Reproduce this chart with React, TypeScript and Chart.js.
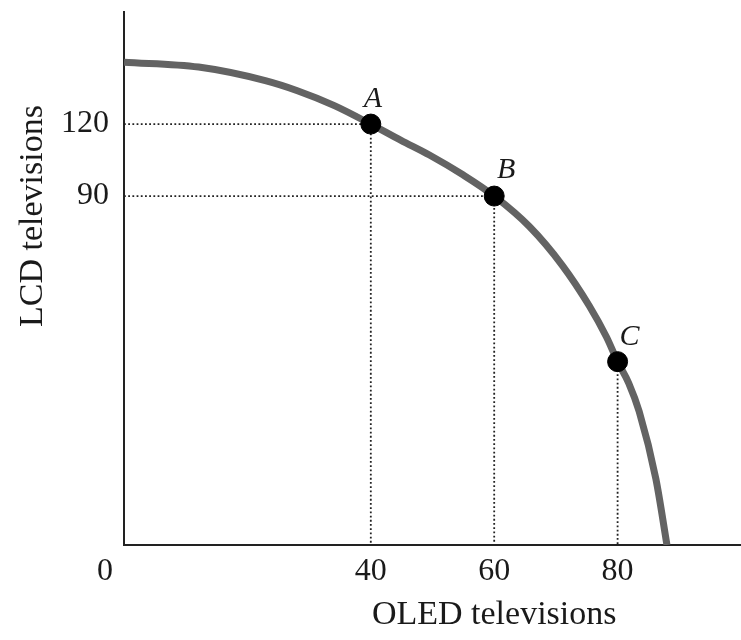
import React, { useEffect, useRef } from "react";
import { Chart, registerables } from "chart.js";

Chart.register(...registerables);

// Production possibilities frontier
const curveX = [0, 12.1, 22.9, 28.1, 34.1, 40, 44.9, 49.5, 55.0, 60, 65.7, 71.0, 75.4, 78.2, 80, 81.8, 83.5, 86.2, 88.0];
const curveY = [145.8, 143.75, 138.1, 133.9, 127.7, 120, 113.2, 107.1, 98.75, 90, 77.3, 61.25, 44.3, 31.25, 21, 12.1, 0.2, -27.8, -55.4];

const pointLabels = ["A", "B", "C"];
const pointX = [40, 60, 80];
const pointY = [120, 90, 21];
const horizontalGuide = [true, true, false];

const xTicks = [40, 60, 80];
const yTicks = [90, 120];
const originLabel = "0";
const xTitle = "OLED televisions";
const yTitle = "LCD televisions";

const X_MIN = 0;
const X_MAX = 100;
const Y_MIN = -55.4;
const Y_MAX = 166.7;

const SERIF = '"Liberation Serif", "DejaVu Serif", serif';
const TEXT = "#1a1a1a";

export default function App() {
  const canvasRef = useRef<HTMLCanvasElement | null>(null);

  useEffect(() => {
    const canvas = canvasRef.current;
    if (!canvas) return;

    const curveData = curveX.map((x, i) => ({ x, y: curveY[i] }));
    const pointData = pointX.map((x, i) => ({ x, y: pointY[i] }));

    const guideSets = pointX.map((x, i) => {
      const y = pointY[i];
      const data = horizontalGuide[i]
        ? [{ x: X_MIN, y }, { x, y }, { x, y: Y_MIN }]
        : [{ x, y }, { x, y: Y_MIN }];
      return {
        type: "line" as const,
        data,
        borderColor: "#222",
        borderWidth: 1.8,
        borderDash: [1.8, 2.4],
        pointRadius: 0,
        fill: false,
        tension: 0,
        order: 3,
      };
    });

    const textPlugin = {
      id: "textPlugin",
      afterDraw(chart: any) {
        const ctx = chart.ctx as CanvasRenderingContext2D;
        const xs = chart.scales.x;
        const ys = chart.scales.y;
        ctx.save();
        ctx.fillStyle = TEXT;
        ctx.textAlign = "center";
        ctx.textBaseline = "middle";

        // origin label
        ctx.font = `32px ${SERIF}`;
        ctx.fillText(originLabel, xs.getPixelForValue(X_MIN) - 19, ys.bottom + 27);

        // axis titles
        ctx.font = `34px ${SERIF}`;
        ctx.fillText(xTitle, xs.getPixelForValue(60), chart.height - 25);
        ctx.save();
        ctx.translate(33, 216);
        ctx.rotate(-Math.PI / 2);
        ctx.fillText(yTitle, 0, 0);
        ctx.restore();

        // point labels
        ctx.font = `italic 30px ${SERIF}`;
        const offs = [
          [2, -25],
          [12, -26],
          [12, -25],
        ];
        pointX.forEach((x, i) => {
          const px = xs.getPixelForValue(x);
          const py = ys.getPixelForValue(pointY[i]);
          ctx.fillText(pointLabels[i], px + offs[i][0], py + offs[i][1]);
        });
        ctx.restore();
      },
    };

    const chart = new Chart(canvas, {
      type: "line",
      data: {
        datasets: [
          {
            type: "scatter" as const,
            data: pointData,
            backgroundColor: "#000",
            borderColor: "#000",
            pointRadius: 10,
            pointHoverRadius: 10,
            showLine: false,
            order: 0,
          },
          {
            type: "line" as const,
            data: curveData,
            borderColor: "#636363",
            borderWidth: 7,
            pointRadius: 0,
            fill: false,
            cubicInterpolationMode: "monotone" as const,
            order: 1,
          },
          ...guideSets,
        ] as any,
      },
      options: {
        responsive: false,
        animation: false,
        events: [],
        layout: { autoPadding: false, padding: { left: 0, right: 0, top: 12, bottom: 0 } },
        plugins: {
          legend: { display: false },
          tooltip: { enabled: false },
          title: { display: false },
        },
        scales: {
          x: {
            type: "linear",
            min: X_MIN,
            max: X_MAX,
            afterBuildTicks: (scale: any) => {
              scale.ticks = xTicks.map((v) => ({ value: v }));
            },
            afterFit: (scale: any) => {
              scale.height = 95;
              scale.paddingLeft = 0;
              scale.paddingRight = 0;
            },
            ticks: {
              autoSkip: false,
              maxRotation: 0,
              padding: 7,
              color: TEXT,
              font: { family: SERIF, size: 32 },
              callback: (v: any) => String(v),
            },
            grid: { display: true, color: "transparent", drawTicks: false },
            border: { display: true, color: "#222", width: 2 },
          },
          y: {
            type: "linear",
            min: Y_MIN,
            max: Y_MAX,
            afterBuildTicks: (scale: any) => {
              scale.ticks = yTicks.map((v) => ({ value: v }));
            },
            afterFit: (scale: any) => {
              scale.width = 124;
              scale.paddingTop = 0;
              scale.paddingBottom = 0;
            },
            ticks: {
              autoSkip: false,
              padding: 15,
              color: TEXT,
              font: { family: SERIF, size: 32 },
              callback: (v: any) => String(v),
            },
            grid: { display: true, color: "transparent", drawTicks: false },
            border: { display: true, color: "#222", width: 2 },
          },
        },
      } as any,
      plugins: [textPlugin],
    });

    return () => {
      chart.destroy();
    };
  }, []);

  return (
    <div
      style={{
        position: "fixed",
        left: 0,
        top: 0,
        width: 741,
        height: 640,
        background: "#fff",
      }}
    >
      <canvas ref={canvasRef} width={741} height={640} style={{ display: "block" }} />
    </div>
  );
}
